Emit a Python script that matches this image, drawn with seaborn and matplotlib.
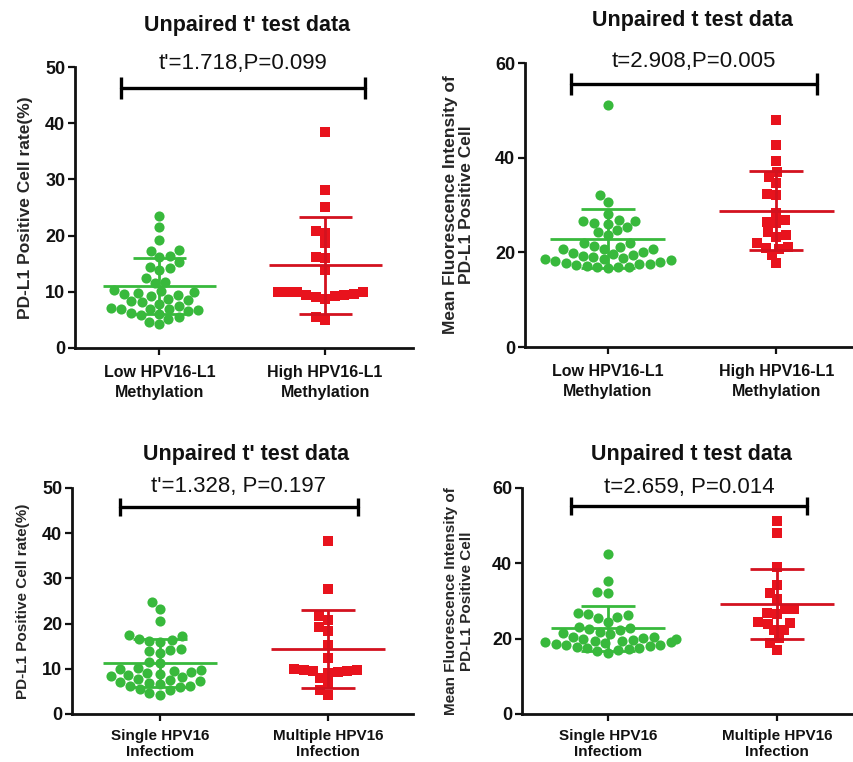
import matplotlib
matplotlib.use("Agg")
import matplotlib.pyplot as plt
import pandas as pd
import seaborn as sns

# ---- values ----
CATS_METH = ["Low HPV16-L1\nMethylation", "High HPV16-L1\nMethylation"]
CATS_INF = ["Single HPV16\nInfectiom", "Multiple HPV16\nInfection"]

rate_low_meth = [23.4, 21.6, 19.3, 17.5, 17.3, 16.4, 16.2, 15.3, 14.5, 14.3, 13.8,
                 12.5, 11.8, 11.6, 10.3, 10.1, 9.9, 9.8, 9.6, 9.4, 9.2, 8.8, 8.5,
                 8.3, 8.1, 7.9, 7.5, 7.2, 7.0, 7.0, 6.9, 6.7, 6.5, 6.3, 6.1, 5.8,
                 5.5, 5.2, 4.6, 4.2]
rate_high_meth = [38.5, 28.1, 25.1, 20.9, 20.5, 18.6, 16.2, 16.0, 13.9, 10.0, 10.0,
                  10.0, 10.0, 9.6, 9.5, 9.4, 9.2, 9.0, 8.8, 5.6, 4.9]

mfi_low_meth = [51.2, 32.1, 30.7, 28.1, 26.8, 26.7, 26.6, 26.3, 25.9, 25.4, 24.7,
                24.3, 23.6, 22.0, 22.0, 21.3, 21.2, 20.8, 20.8, 20.8, 20.1, 19.8,
                19.6, 19.4, 19.2, 19.0, 18.8, 18.6, 18.5, 18.3, 18.1, 18.0, 17.8,
                17.6, 17.5, 17.3, 17.2, 17.0, 16.9, 16.8, 16.6]
mfi_high_meth = [48.0, 42.7, 39.2, 37.0, 35.9, 34.6, 32.4, 32.2, 28.3, 26.8, 26.5,
                 26.1, 24.4, 23.7, 23.3, 21.9, 21.2, 20.9, 20.7, 19.4, 17.7]

rate_single = [24.7, 23.3, 20.5, 17.4, 17.2, 16.5, 16.3, 16.2, 16.0, 14.3, 14.1,
               13.9, 13.6, 11.5, 11.3, 10.2, 10.0, 9.8, 9.6, 9.4, 9.1, 8.9, 8.6,
               8.4, 8.1, 7.8, 7.6, 7.3, 7.0, 6.9, 6.6, 6.3, 6.1, 5.9, 5.6, 5.2,
               4.6, 4.3]
rate_multiple = [38.2, 27.7, 21.6, 20.9, 19.2, 18.3, 15.3, 12.4, 9.9, 9.8, 9.7,
                 9.6, 9.5, 9.3, 9.0, 8.0, 6.9, 5.4, 4.3]

mfi_single = [42.6, 35.3, 32.3, 32.1, 26.7, 26.6, 26.2, 25.8, 25.4, 24.5, 23.0,
              22.8, 22.5, 22.2, 21.8, 21.5, 21.2, 20.5, 20.5, 20.2, 20.0, 19.9,
              19.7, 19.5, 19.3, 19.1, 19.0, 18.8, 18.6, 18.4, 18.2, 18.0, 17.8,
              17.6, 17.4, 17.2, 17.0, 16.6, 16.2]
mfi_multiple = [51.2, 48.1, 39.0, 34.2, 32.2, 30.4, 28.0, 28.0, 26.8, 26.6, 24.3,
                24.2, 24.0, 22.4, 22.2, 20.1, 18.9, 17.1]

# mean and SD bars as drawn in the figure
means = [[11.0, 14.7], [22.9, 28.8], [11.3, 14.4], [22.7, 29.2]]
sds = [[5.0, 8.6], [6.2, 8.3], [5.3, 8.7], [5.9, 9.2]]

titles = ["Unpaired t' test data", "Unpaired t test data",
          "Unpaired t' test data", "Unpaired t test data"]
stat_labels = ["t'=1.718,P=0.099", "t=2.908,P=0.005",
               "t'=1.328, P=0.197", "t=2.659, P=0.014"]
ylabels = ["PD-L1 Positive Cell rate(%)",
           "Mean Fluorescence Intensity of\nPD-L1 Positive Cell",
           "PD-L1 Positive Cell rate(%)",
           "Mean Fluorescence Intensity of\nPD-L1 Positive Cell"]

GREEN = "#38b93c"
RED = "#e8131d"
RED_LINE = "#d3121f"

W, H = 854, 762
# panel boxes in pixels: left, right, top, bottom
boxes = [(75, 413, 67, 348), (525, 854, 63, 347), (72, 413, 488, 714), (522, 854, 488, 714)]
xlims = [(-0.51, 1.53), (-0.49, 1.46), (-0.524, 1.506), (-0.509, 1.456)]
ymaxes = [50, 60, 50, 60]
brackets = [(-0.23, 1.24, 46.3, 2.0), (-0.22, 1.24, 55.6, 2.3),
            (-0.24, 1.18, 45.8, 2.0), (-0.22, 1.18, 55.1, 2.4)]
text_y = [50.6, 60.3, 50.3, 60.1]
label_x = [-0.124, -0.155, -0.123, -0.146]
label_size = [12.5, 12.5, 11, 11]
label_spacing = [1.0, 1.05, 1.0, 1.1]


def main():
    sns.set_theme(style="ticks")
    plt.rcParams["font.family"] = ["Liberation Sans", "DejaVu Sans"]

    fig = plt.figure(figsize=(W / 100, H / 100), dpi=100)

    panels = [
        (CATS_METH, rate_low_meth, rate_high_meth),
        (CATS_METH, mfi_low_meth, mfi_high_meth),
        (CATS_INF, rate_single, rate_multiple),
        (CATS_INF, mfi_single, mfi_multiple),
    ]

    for k, (cats, g1, g2) in enumerate(panels):
        l, r, t, b = boxes[k]
        ax = fig.add_axes([l / W, (H - b) / H, (r - l) / W, (b - t) / H])
        df = pd.DataFrame({
            "group": [cats[0]] * len(g1) + [cats[1]] * len(g2),
            "value": g1 + g2,
        })
        sns.swarmplot(data=df[df.group == cats[0]], x="group", y="value", order=cats,
                      color=GREEN, marker="o", size=7.3, linewidth=0, ax=ax)
        sns.swarmplot(data=df[df.group == cats[1]], x="group", y="value", order=cats,
                      color=RED, marker="s", size=6.6, linewidth=0, ax=ax)

        # mean +/- SD
        for i, col in enumerate([GREEN, RED_LINE]):
            m, s = means[k][i], sds[k][i]
            ax.hlines(m, i - 0.34, i + 0.34, color=col, lw=2, zorder=5)
            ax.vlines(i, m - s, m + s, color=col, lw=2, zorder=5)
            ax.hlines([m - s, m + s], i - 0.16, i + 0.16, color=col, lw=2, zorder=5)

        # significance bracket
        x0, x1, yb, cap = brackets[k]
        ax.plot([x0, x1], [yb, yb], color="black", lw=2.4, clip_on=False, zorder=6)
        ax.vlines([x0, x1], yb - cap, yb + cap, color="black", lw=2.4, clip_on=False, zorder=6)
        ax.text((x0 + x1) / 2, text_y[k], stat_labels[k], ha="center", va="center",
                fontsize=16, color="#111111")

        ax.text(0.51, 1.148, titles[k], transform=ax.transAxes, ha="center", va="center",
                fontsize=15.5, fontweight="bold", color="#111111")

        ax.set_xlim(*xlims[k])
        ax.set_ylim(0, ymaxes[k])
        ax.set_yticks(range(0, ymaxes[k] + 1, 10 if ymaxes[k] == 50 else 20))
        ax.set_xlabel("")
        top_row = k < 2
        ax.set_ylabel(ylabels[k], fontsize=label_size[k], fontweight="bold",
                      linespacing=label_spacing[k])
        ax.yaxis.set_label_coords(label_x[k], 0.5)

        for lab in ax.get_yticklabels():
            lab.set_fontweight("bold")
            lab.set_fontsize(13)
        for lab in ax.get_xticklabels():
            lab.set_fontsize(11.5 if top_row else 11)
            lab.set_fontweight("bold")
            lab.set_linespacing(1.45 if top_row else 1.2)

        sns.despine(ax=ax)
        for sp in ("left", "bottom"):
            ax.spines[sp].set_linewidth(2)
            ax.spines[sp].set_color("#111111")
        ax.tick_params(direction="out", length=5, width=1.6, colors="#111111", pad=2)
        ax.tick_params(axis="x", pad=7 if top_row else 6)

    fig.savefig("out.png", dpi=100)


if __name__ == "__main__":
    main()
